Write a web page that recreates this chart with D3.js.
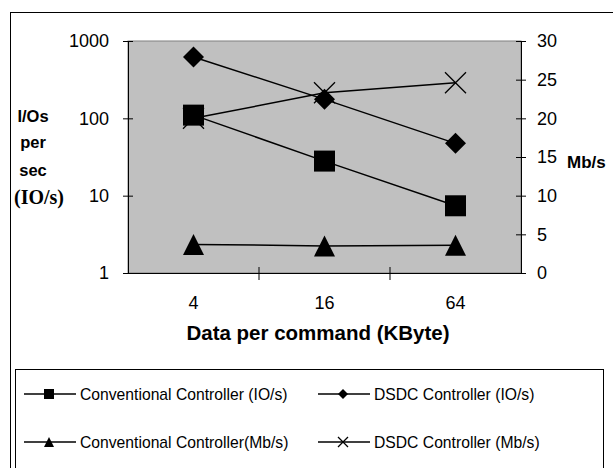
<!DOCTYPE html>
<html>
<head>
<meta charset="utf-8">
<script src="https://cdnjs.cloudflare.com/ajax/libs/d3/7.8.5/d3.min.js"></script>
<style>
  body { margin: 0; background: #fff; }
  text { font-family: "Liberation Sans", Arial, sans-serif; fill: #000; }
</style>
</head>
<body>
<div id="chart"></div>
<script>
const categories = ["4", "16", "64"]
const leftTicks = [1, 10, 100, 1000]
const rightTicks = [0, 5, 10, 15, 20, 25, 30]

// IO/s series (left, log axis)
const convIO = [110, 28, 7.4]
const dsdcIO = [620, 176, 47.5]
// Mb/s series (right axis)
const convMb = [3.7, 3.5, 3.6]
const dsdcMb = [20, 23.3, 24.6]

const legendNames = [
    "Conventional Controller (IO/s)",
    "DSDC Controller (IO/s)",
    "Conventional Controller(Mb/s)",
    "DSDC Controller (Mb/s)"
]

const svgWidth = 613, svgHeight = 468
const plot = { left: 128, top: 41, right: 521, bottom: 273 }

const svg = d3.select("#chart").append("svg")
    .attr("width", svgWidth)
    .attr("height", svgHeight)

// outer frame
svg.append("rect")
    .attr("x", 10.5).attr("y", 12.5)
    .attr("width", 640).attr("height", 500)
    .attr("fill", "none").attr("stroke", "#000")

// scales
const x = d3.scaleBand().domain(categories).range([plot.left, plot.right])
const yL = d3.scaleLog().domain([1, 1000]).range([plot.bottom, plot.top])
const yR = d3.scaleLinear().domain([0, 30]).range([plot.bottom, plot.top])
const cx = d => x(d) + x.bandwidth() / 2

// plot background
svg.append("rect")
    .attr("x", plot.left).attr("y", plot.top)
    .attr("width", plot.right - plot.left).attr("height", plot.bottom - plot.top)
    .attr("fill", "#c0c0c0")
    .attr("stroke", "#808080")

// axes
const leftAxis = svg.append("g")
    .attr("transform", `translate(${plot.left},0)`)
    .call(d3.axisLeft(yL).tickValues(leftTicks).tickFormat(d3.format("d")).tickSize(5).tickPadding(14))
leftAxis.selectAll(".tick line").attr("x2", 5).attr("x1", -5)

const rightAxis = svg.append("g")
    .attr("transform", `translate(${plot.right},0)`)
    .call(d3.axisRight(yR).tickValues(rightTicks).tickSize(5).tickPadding(11))
rightAxis.selectAll(".tick line").attr("x1", -5).attr("x2", 5)

const bottomAxis = svg.append("g")
    .attr("transform", `translate(0,${plot.bottom})`)
    .call(d3.axisBottom(x).tickSize(0).tickPadding(23))
// tick marks between categories
bottomAxis.selectAll(".sep")
    .data(categories.slice(1))
    .enter().append("line")
    .attr("x1", d => x(d)).attr("x2", d => x(d))
    .attr("y1", -6).attr("y2", 7)
    .attr("stroke", "#000")

svg.selectAll(".domain").attr("stroke", "#000")
svg.selectAll(".tick line").attr("stroke", "#000")
svg.selectAll(".tick text")
    .attr("font-family", "Liberation Sans, Arial, sans-serif")
    .attr("font-size", 18)
svg.selectAll("g").attr("font-size", 18)

// series lines
const lineL = d3.line().x((d, i) => cx(categories[i])).y(d => yL(d))
const lineR = d3.line().x((d, i) => cx(categories[i])).y(d => yR(d))

const series = [
    { vals: convIO, line: lineL, y: yL, sym: "square" },
    { vals: dsdcIO, line: lineL, y: yL, sym: "diamond" },
    { vals: convMb, line: lineR, y: yR, sym: "triangle" },
    { vals: dsdcMb, line: lineR, y: yR, sym: "cross" }
]

function drawMarker(g, sym, size) {
    const h = size / 2
    if (sym === "square") {
        g.append("rect").attr("x", -h).attr("y", -h).attr("width", size).attr("height", size).attr("fill", "#000")
    } else if (sym === "diamond") {
        g.append("path").attr("d", `M0,${-h}L${h},0L0,${h}L${-h},0Z`).attr("fill", "#000")
    } else if (sym === "triangle") {
        g.append("path").attr("d", `M0,${-h}L${h},${h}L${-h},${h}Z`).attr("fill", "#000")
    } else {
        g.append("path").attr("d", `M${-h},${-h}L${h},${h}M${h},${-h}L${-h},${h}`)
            .attr("stroke", "#000").attr("stroke-width", 1.3).attr("fill", "none")
    }
}

series.forEach(s => {
    svg.append("path")
        .datum(s.vals)
        .attr("d", s.line)
        .attr("fill", "none")
        .attr("stroke", "#000")
        .attr("stroke-width", 1.5)
})
// crosses first so the other markers sit on top, as in the source
const order = [3, 2, 0, 1]
order.forEach(k => {
    const s = series[k]
    s.vals.forEach((v, i) => {
        const g = svg.append("g").attr("transform", `translate(${cx(categories[i])},${s.y(v)})`)
        drawMarker(g, s.sym, 21)
    })
})

// axis titles
const leftTitle = [["I/Os", 122], ["per", 148], ["sec", 176]]
svg.selectAll(".ltitle")
    .data(leftTitle)
    .enter().append("text")
    .attr("x", 33)
    .attr("y", d => d[1])
    .attr("text-anchor", "middle")
    .style("font-weight", "bold")
    .style("font-size", "16.5px")
    .text(d => d[0])
svg.append("text")
    .attr("x", 39).attr("y", 204)
    .attr("text-anchor", "middle")
    .style("font-family", "Liberation Serif, Times New Roman, serif")
    .style("font-weight", "bold")
    .style("font-size", "20px")
    .text("(IO/s)")

svg.append("text")
    .attr("x", 567).attr("y", 168)
    .style("font-weight", "bold")
    .style("font-size", "17px")
    .text("Mb/s")

svg.append("text")
    .attr("x", 318).attr("y", 340)
    .attr("text-anchor", "middle")
    .style("font-weight", "bold")
    .style("font-size", "20.5px")
    .text("Data per command (KByte)")

// legend
svg.append("rect")
    .attr("x", 15.5).attr("y", 369.5)
    .attr("width", 588).attr("height", 200)
    .attr("fill", "#fff").attr("stroke", "#000")

const legPos = [[24, 394], [318, 394], [24, 442], [318, 442]]
series.forEach((s, i) => {
    const [lx, ly] = legPos[i]
    const g = svg.append("g").attr("transform", `translate(${lx},${ly})`)
    g.append("line").attr("x1", 0).attr("x2", 52).attr("y1", 0).attr("y2", 0)
        .attr("stroke", "#000").attr("stroke-width", 1.5)
    const m = g.append("g").attr("transform", "translate(25,0)")
    drawMarker(m, s.sym, s.sym === "diamond" ? 10 : 10)
    g.append("text")
        .attr("x", 56).attr("y", 6)
        .style("font-size", "15.7px")
        .text(legendNames[i])
})
</script>
</body>
</html>
